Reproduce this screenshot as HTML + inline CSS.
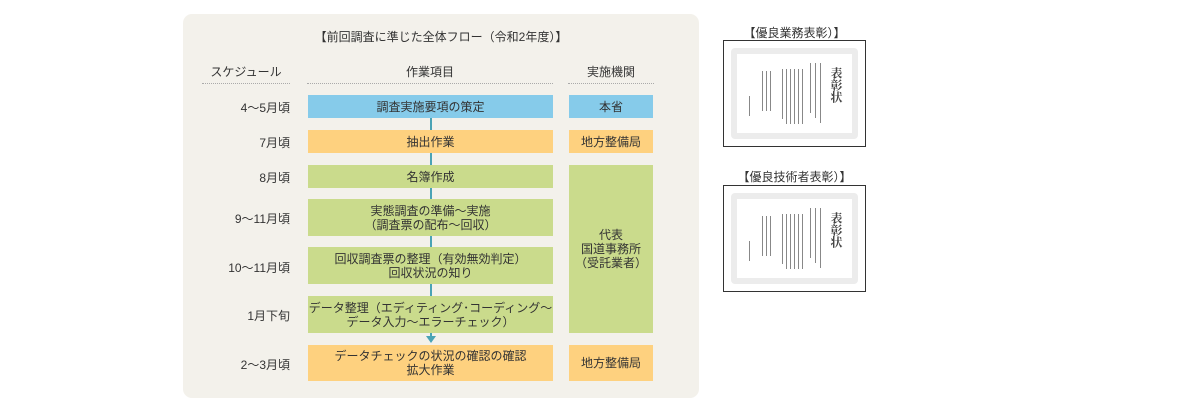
<!DOCTYPE html>
<html><head><meta charset="utf-8"><style>
body{margin:0;width:1200px;height:417px;background:#fff;position:relative;overflow:hidden;font-family:"Liberation Sans","Noto Sans CJK JP",sans-serif;color:#333;font-size:12px}
.a{position:absolute}
.panel{left:183px;top:14px;width:516px;height:384px;background:#f3f1eb;border-radius:9px}
.b{position:absolute;display:flex;align-items:center;justify-content:center;text-align:center;line-height:14px}
.bl{background:#86cbea}.or{background:#fed17f}.gr{background:#cadb8c}
.s{position:absolute;right:910px;text-align:right;width:100px}
.dot{position:absolute;top:83px;border-top:1px dotted #aaa;height:0}
.cert{position:absolute;left:723px;width:141px;border:1px solid #333;background:#fff}
.inner{position:absolute;left:7px;top:7px;right:7px;bottom:7px;border:6px solid #ececec;border-radius:4px}
.vt{position:absolute;writing-mode:vertical-rl;font-family:"Noto Serif CJK SC",serif;color:#444}
.ln{position:absolute;width:1px;background:#888}
</style></head><body>
<div class="a panel"></div>
<div class="a" style="left:183px;width:516px;top:28px;text-align:center">【前回調査に準じた全体フロー（令和2年度）】</div>
<div class="a" style="left:202px;width:88px;top:63px;text-align:center">スケジュール</div>
<div class="a" style="left:307px;width:246px;top:63px;text-align:center">作業項目</div>
<div class="a" style="left:568px;width:86px;top:63px;text-align:center">実施機関</div>
<div class="dot" style="left:202px;width:88px"></div>
<div class="dot" style="left:307px;width:246px"></div>
<div class="dot" style="left:568px;width:86px"></div>

<div class="a" style="left:430px;top:118px;width:2px;height:222px;background:#4aa3b5"></div>
<div class="a" style="left:426px;top:336px;width:0;height:0;border-left:5px solid transparent;border-right:5px solid transparent;border-top:7px solid #4aa3b5"></div>

<div class="s" style="top:99px">4～5月頃</div>
<div class="s" style="top:134px">7月頃</div>
<div class="s" style="top:169px">8月頃</div>
<div class="s" style="top:210px">9～11月頃</div>
<div class="s" style="top:259px">10～11月頃</div>
<div class="s" style="top:307px">1月下旬</div>
<div class="s" style="top:356px">2～3月頃</div>

<div class="b bl" style="left:308px;top:95px;width:245px;height:23px">調査実施要項の策定</div>
<div class="b or" style="left:308px;top:130px;width:245px;height:23px">抽出作業</div>
<div class="b gr" style="left:308px;top:165px;width:245px;height:23px">名簿作成</div>
<div class="b gr" style="left:308px;top:199px;width:245px;height:37px">実態調査の準備～実施<br>（調査票の配布～回収）</div>
<div class="b gr" style="left:308px;top:247px;width:245px;height:37px">回収調査票の整理（有効無効判定）<br>回収状況の知り</div>
<div class="b gr" style="left:308px;top:296px;width:245px;height:37px">データ整理（エディティング･コーディング～<br>データ入力～エラーチェック）</div>
<div class="b or" style="left:308px;top:345px;width:245px;height:36px">データチェックの状況の確認の確認<br>拡大作業</div>

<div class="b bl" style="left:569px;top:95px;width:84px;height:23px">本省</div>
<div class="b or" style="left:569px;top:130px;width:84px;height:23px">地方整備局</div>
<div class="b gr" style="left:569px;top:165px;width:84px;height:168px">代表<br>国道事務所<br>（受託業者）</div>
<div class="b or" style="left:569px;top:345px;width:84px;height:36px">地方整備局</div>

<div class="a" style="left:723px;width:143px;top:24px;text-align:center">【優良業務表彰）】</div>
<div class="cert" style="top:40px;height:105px"><div class="inner"></div>
<div class="vt" style="left:104px;top:26px;font-size:12px;font-weight:bold">表彰状</div>
<div class="ln" style="left:96px;top:22px;height:60px"></div><div class="ln" style="left:91px;top:22px;height:55px"></div><div class="ln" style="left:86px;top:22px;height:50px"></div>
<div class="ln" style="left:78px;top:28px;height:55px"></div><div class="ln" style="left:74px;top:28px;height:55px"></div><div class="ln" style="left:70px;top:28px;height:55px"></div><div class="ln" style="left:66px;top:28px;height:55px"></div><div class="ln" style="left:62px;top:28px;height:55px"></div><div class="ln" style="left:58px;top:28px;height:50px"></div>
<div class="ln" style="left:46px;top:30px;height:40px"></div><div class="ln" style="left:42px;top:30px;height:40px"></div><div class="ln" style="left:38px;top:30px;height:40px"></div><div class="ln" style="left:25px;top:55px;height:20px"></div>
</div>
<div class="a" style="left:723px;width:143px;top:168px;text-align:center">【優良技術者表彰）】</div>
<div class="cert" style="top:185px;height:105px"><div class="inner"></div>
<div class="vt" style="left:104px;top:26px;font-size:12px;font-weight:bold">表彰状</div>
<div class="ln" style="left:96px;top:22px;height:60px"></div><div class="ln" style="left:91px;top:22px;height:55px"></div><div class="ln" style="left:86px;top:22px;height:50px"></div>
<div class="ln" style="left:78px;top:28px;height:55px"></div><div class="ln" style="left:74px;top:28px;height:55px"></div><div class="ln" style="left:70px;top:28px;height:55px"></div><div class="ln" style="left:66px;top:28px;height:55px"></div><div class="ln" style="left:62px;top:28px;height:55px"></div><div class="ln" style="left:58px;top:28px;height:50px"></div>
<div class="ln" style="left:46px;top:30px;height:40px"></div><div class="ln" style="left:42px;top:30px;height:40px"></div><div class="ln" style="left:38px;top:30px;height:40px"></div><div class="ln" style="left:25px;top:55px;height:20px"></div>
</div>
</body></html>
